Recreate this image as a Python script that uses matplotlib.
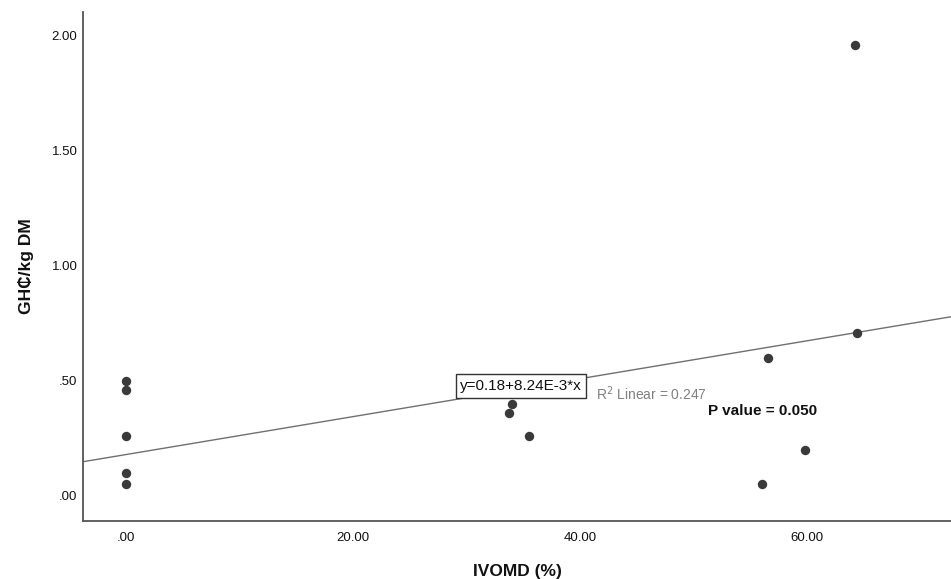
import matplotlib
matplotlib.use("Agg")
import matplotlib.pyplot as plt
import numpy as np

ivomd = [0.0, 0.0, 0.0, 0.0, 0.0, 34.0, 33.7, 35.5, 56.0, 56.6, 59.8, 64.2, 64.4]
ghc = [0.50, 0.46, 0.26, 0.10, 0.05, 0.40, 0.36, 0.26, 0.05, 0.60, 0.20, 1.96, 0.71]
intercept, slope = 0.18, 8.24e-3
xticks = [0, 20, 40, 60]
xticklabels = [".00", "20.00", "40.00", "60.00"]
yticks = [0, 0.5, 1.0, 1.5, 2.0]
yticklabels = [".00", ".50", "1.00", "1.50", "2.00"]

plt.rcParams['font.family'] = ['Liberation Sans', 'DejaVu Sans']

fig = plt.figure(figsize=(9.51, 5.79), dpi=100)
ax = fig.add_axes([0.0873, 0.1002, 0.9127, 0.879])
xmin, xmax = -3.8, 72.7
ymin, ymax = -0.109, 2.104
ax.set_xlim(xmin, xmax)
ax.set_ylim(ymin, ymax)

xs = np.array([xmin, xmax])
ax.plot(xs, intercept + slope * xs, color='#707070', lw=1.0, zorder=1)
ax.scatter(ivomd, ghc, s=46, color='#3a3a3a', zorder=3, linewidths=0)

ax.set_xticks(xticks)
ax.set_xticklabels(xticklabels)
ax.set_yticks(yticks)
ax.set_yticklabels(yticklabels)
ax.tick_params(length=0, labelsize=9.5, colors='#111111')
ax.tick_params(axis='x', pad=8)
ax.tick_params(axis='y', pad=4)
for sp in ['top', 'right']:
    ax.spines[sp].set_visible(False)
for sp in ['left', 'bottom']:
    ax.spines[sp].set_color('#555555')
    ax.spines[sp].set_linewidth(1.3)

ax.set_xlabel("IVOMD (%)", fontsize=12.5, fontweight='bold', labelpad=14, color='#111111')
ax.set_ylabel("GH\u20b5/kg DM", fontsize=12.5, fontweight='bold', labelpad=13, color='#111111')

ax.text(34.8, 0.478, "y=0.18+8.24E-3*x", fontsize=11, ha='center', va='center', color='#111111',
        bbox=dict(boxstyle='square,pad=0.3', fc='white', ec='#333333', lw=1.0), zorder=4)
ax.text(41.4, 0.443, "R$^2$ Linear = 0.247", fontsize=10, color='#808080', ha='left', va='center')
ax.text(51.3, 0.37, "P value = 0.050", fontsize=11, fontweight='bold', ha='left', va='center', color='#111111')

fig.savefig("out.png", dpi=100)
